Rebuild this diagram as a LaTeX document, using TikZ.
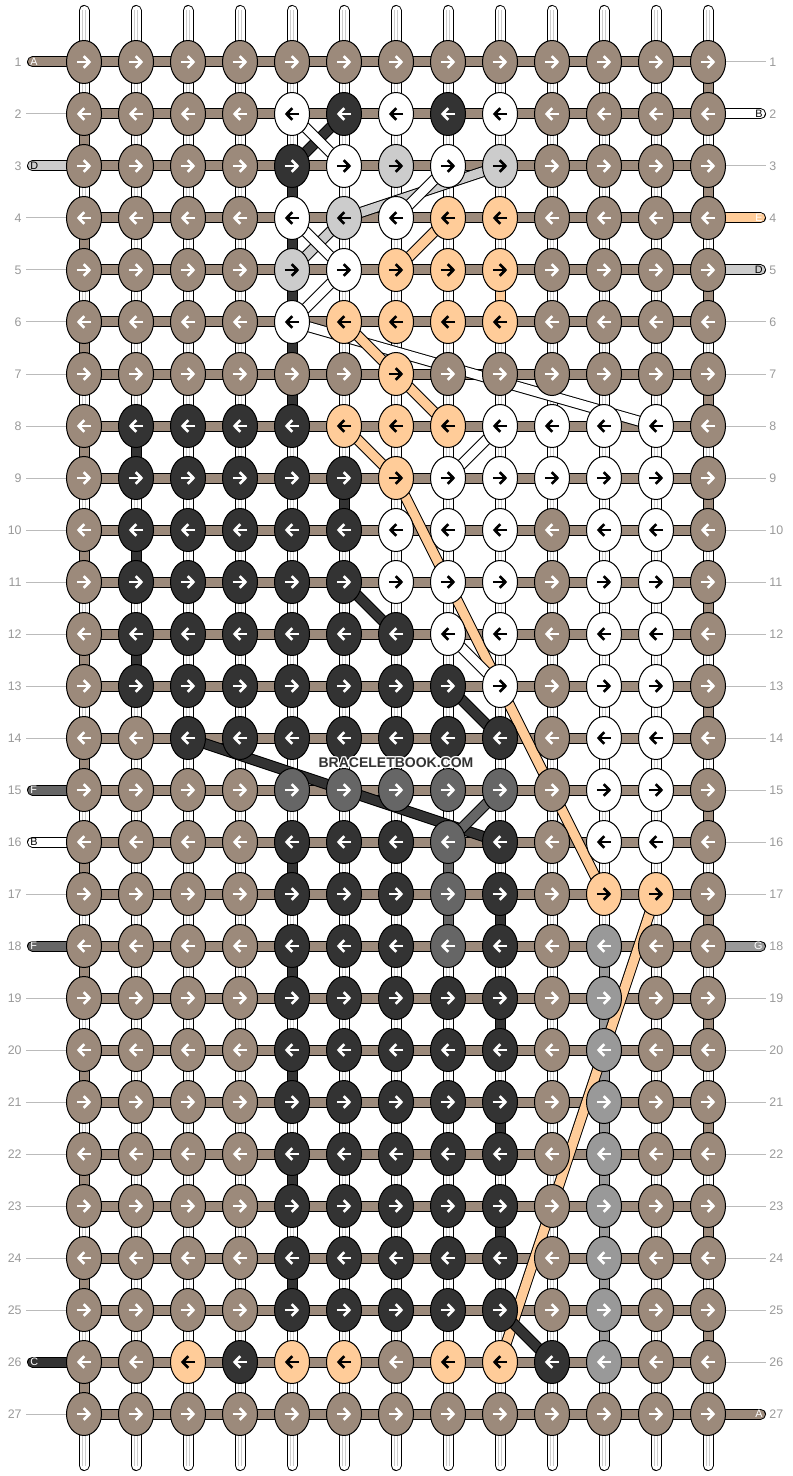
\documentclass[tikz,border=0pt]{standalone}
\usepackage{fontspec}
\setmainfont{Liberation Sans}
\usetikzlibrary{arrows.meta,shapes.geometric}

\definecolor{tBrown}{HTML}{9C8A7B}
\definecolor{tDark}{HTML}{333333}
\definecolor{tWhite}{HTML}{FFFFFF}
\definecolor{tLight}{HTML}{CCCCCC}
\definecolor{tPeach}{HTML}{FFCC99}
\definecolor{tGray}{HTML}{666666}
\definecolor{tMid}{HTML}{999999}
\definecolor{tLabel}{HTML}{999999}
\definecolor{tGuide}{HTML}{BBBBBB}

\tikzset{
  knot/.style={ellipse, draw=black, line width=0.5pt, minimum width=17.5pt,
    minimum height=21.5pt, inner sep=0pt},
  knot b/.style={knot, fill=tBrown}, knot k/.style={knot, fill=tDark},
  knot w/.style={knot, fill=tWhite}, knot l/.style={knot, fill=tLight},
  knot p/.style={knot, fill=tPeach}, knot g/.style={knot, fill=tGray},
  knot m/.style={knot, fill=tMid},
  arrow b/.style={draw=white}, arrow k/.style={draw=white},
  arrow g/.style={draw=white}, arrow m/.style={draw=white},
  arrow w/.style={draw=black}, arrow l/.style={draw=black},
  arrow p/.style={draw=black},
  knot arrow/.style={line width=1.35pt, -{Straight Barb[length=2.8pt,width=5.8pt]}},
  warp/.style={draw=black, line width=0.5pt, double=white, double distance=4.5pt, line cap=round},
  warpline/.style={draw=tLight, line width=0.3pt},
  weft/.style={draw=black, line width=0.5pt, double=tBrown, double distance=4.5pt},
  seg/.style={draw=black, line width=0.5pt, double=#1, double distance=4.5pt},
  band/.style={draw=black, line width=0.5pt, double=#1, double distance=4.5pt},
  pill/.style={draw=black, line width=0.5pt, double=#1, double distance=4.5pt, line cap=round},
  guide/.style={draw=tGuide, line width=0.5pt},
  rownum/.style={text=tLabel, font=\fontsize{6.2}{7}\selectfont, inner sep=0pt},
  pilltext/.style={font=\fontsize{5.4}{6}\selectfont, inner sep=0pt}
}

\begin{document}
\begin{tikzpicture}[x=0.5pt,y=-0.5pt]
\useasboundingbox (0,0) rectangle (792,1476);

% grid points
\foreach \r in {1,...,27}
  \foreach \c in {1,...,13}
    \coordinate (p-\r-\c) at ({84+52*(\c-1)},{62+52*(\r-1)});

% vertical strings
\foreach \c in {1,...,13}{
  \coordinate (top-\c) at ({84+52*(\c-1)},10.5);
  \coordinate (bot-\c) at ({84+52*(\c-1)},1465.5);
  \draw[warp] (top-\c) -- (bot-\c);
  \draw[warpline] ([xshift=-0.75pt]top-\c) -- ([xshift=-0.75pt]bot-\c);
  \draw[warpline] ([xshift=0.75pt]top-\c) -- ([xshift=0.75pt]bot-\c);
}

% row strings
\foreach \r in {1,...,27}
  \draw[weft] (p-\r-1) -- (p-\r-13);

% turns at the edges
\foreach \r [evaluate=\r as \rr using int(\r+1)] in {2,4,...,26}
  \draw[seg=tBrown] (p-\r-1) -- (p-\rr-1);
\foreach \r [evaluate=\r as \rr using int(\r+1)] in {1,3,...,25}
  \draw[seg=tBrown] (p-\r-13) -- (p-\rr-13);

% carried strings
\foreach \c/\r/\col in {5/3/tDark, 5/4/tDark, 5/5/tDark, 5/6/tDark, 5/7/tDark,
    9/5/tPeach, 2/8/tDark, 2/10/tDark, 2/12/tDark, 6/9/tDark,
    8/16/tGray, 8/17/tGray, 5/16/tDark, 5/18/tDark, 5/20/tDark, 5/22/tDark, 5/24/tDark,
    9/17/tDark, 9/19/tDark, 9/21/tDark, 9/23/tDark,
    11/18/tMid, 11/19/tMid, 11/20/tMid, 11/21/tMid, 11/22/tMid, 11/23/tMid,
    11/24/tMid, 11/25/tMid}{
  \pgfmathtruncatemacro\rr{\r+1}
  \draw[seg=\col] (p-\r-\c) -- (p-\rr-\c);
}

% strings that change place
\foreach \ra/\ca/\rb/\cb/\col in {2/6/3/5/tDark, 2/5/3/6/tWhite, 3/9/4/6/tLight,
    3/8/4/7/tWhite, 4/6/5/5/tLight, 4/5/5/6/tWhite, 4/8/5/7/tPeach, 5/6/6/5/tWhite,
    6/5/8/12/tWhite, 6/6/7/7/tPeach, 7/7/8/8/tPeach, 8/6/9/7/tPeach,
    8/9/9/8/tWhite, 9/7/17/11/tPeach, 11/6/12/7/tDark, 12/8/13/9/tWhite,
    13/8/14/9/tDark, 14/3/16/9/tDark, 15/9/16/8/tGray, 17/12/26/9/tPeach,
    25/9/26/10/tDark}
  \draw[band=\col] (p-\ra-\ca) -- (p-\rb-\cb);

% string ends
\foreach \r/\col/\txt/\tcol in {1/tBrown/A/white, 3/tLight/D/black, 15/tGray/F/white,
    16/tWhite/B/black, 18/tGray/F/white, 26/tDark/C/white}{
  \coordinate (lend-\r) at (32.5,{62+52*(\r-1)});
  \draw[pill=\col] (lend-\r) -- (p-\r-1);
  \node[pilltext, text=\tcol, anchor=west] (ltag-\r) at (30,{62+52*(\r-1)}) {\txt};
}
\foreach \r in {2,4,5,6,7,8,9,10,11,12,13,14,17,19,20,21,22,23,24,25,27}{
  \coordinate (lend-\r) at (26,{62+52*(\r-1)});
  \draw[guide] (lend-\r) -- (p-\r-1);
}
\foreach \r/\col/\txt/\tcol in {2/tWhite/B/black, 4/tPeach/E/white, 5/tLight/D/black,
    18/tMid/G/white, 27/tBrown/A/white}{
  \coordinate (rend-\r) at (760.5,{62+52*(\r-1)});
  \draw[pill=\col] (p-\r-13) -- (rend-\r);
  \node[pilltext, text=\tcol, anchor=east] (rtag-\r) at (763,{62+52*(\r-1)}) {\txt};
}
\foreach \r in {1,3,6,7,8,9,10,11,12,13,14,15,16,17,19,20,21,22,23,24,25,26}{
  \coordinate (rend-\r) at (766,{62+52*(\r-1)});
  \draw[guide] (p-\r-13) -- (rend-\r);
}

% row numbers
\foreach \r in {1,...,27}{
  \node[rownum, anchor=east] (lnum-\r) at (22,{62+52*(\r-1)}) {\r};
  \node[rownum, anchor=west] (rnum-\r) at (769,{62+52*(\r-1)}) {\r};
}

% knots
\foreach \row [count=\r] in {
  {b,b,b,b,b,b,b,b,b,b,b,b,b}, {b,b,b,b,w,k,w,k,w,b,b,b,b},
  {b,b,b,b,k,w,l,w,l,b,b,b,b}, {b,b,b,b,w,l,w,p,p,b,b,b,b},
  {b,b,b,b,l,w,p,p,p,b,b,b,b}, {b,b,b,b,w,p,p,p,p,b,b,b,b},
  {b,b,b,b,b,b,p,b,b,b,b,b,b}, {b,k,k,k,k,p,p,p,w,w,w,w,b},
  {b,k,k,k,k,k,p,w,w,w,w,w,b}, {b,k,k,k,k,k,w,w,w,b,w,w,b},
  {b,k,k,k,k,k,w,w,w,b,w,w,b}, {b,k,k,k,k,k,k,w,w,b,w,w,b},
  {b,k,k,k,k,k,k,k,w,b,w,w,b}, {b,b,k,k,k,k,k,k,k,b,w,w,b},
  {b,b,b,b,g,g,g,g,g,b,w,w,b}, {b,b,b,b,k,k,k,g,k,b,w,w,b},
  {b,b,b,b,k,k,k,g,k,b,p,p,b}, {b,b,b,b,k,k,k,g,k,b,m,b,b},
  {b,b,b,b,k,k,k,k,k,b,m,b,b}, {b,b,b,b,k,k,k,k,k,b,m,b,b},
  {b,b,b,b,k,k,k,k,k,b,m,b,b}, {b,b,b,b,k,k,k,k,k,b,m,b,b},
  {b,b,b,b,k,k,k,k,k,b,m,b,b}, {b,b,b,b,k,k,k,k,k,b,m,b,b},
  {b,b,b,b,k,k,k,k,k,b,m,b,b}, {b,b,p,k,p,p,b,p,p,k,m,b,b},
  {b,b,b,b,b,b,b,b,b,b,b,b,b}}{
  \pgfmathsetmacro\d{isodd(\r) ? 1 : -1}
  \foreach \col [count=\c] in \row {
    \node[knot \col] (k-\r-\c) at (p-\r-\c) {};
    \draw[knot arrow, arrow \col] ([xshift={-3.6pt*\d}]k-\r-\c.center) -- ([xshift={3.6pt*\d}]k-\r-\c.center);
  }
}

% watermark
\foreach \dx/\dy in {-1/0,1/0,0/-1,0/1,-1/-1,1/1,-1/1,1/-1}
  \node[font=\bfseries\fontsize{7}{8}\selectfont, text=white, inner sep=0pt] at ({396+\dx},{763+\dy}) {BRACELETBOOK.COM};
\node[font=\bfseries\fontsize{7}{8}\selectfont, text=tDark, inner sep=0pt] (mark) at (396,763) {BRACELETBOOK.COM};
\end{tikzpicture}
\end{document}
